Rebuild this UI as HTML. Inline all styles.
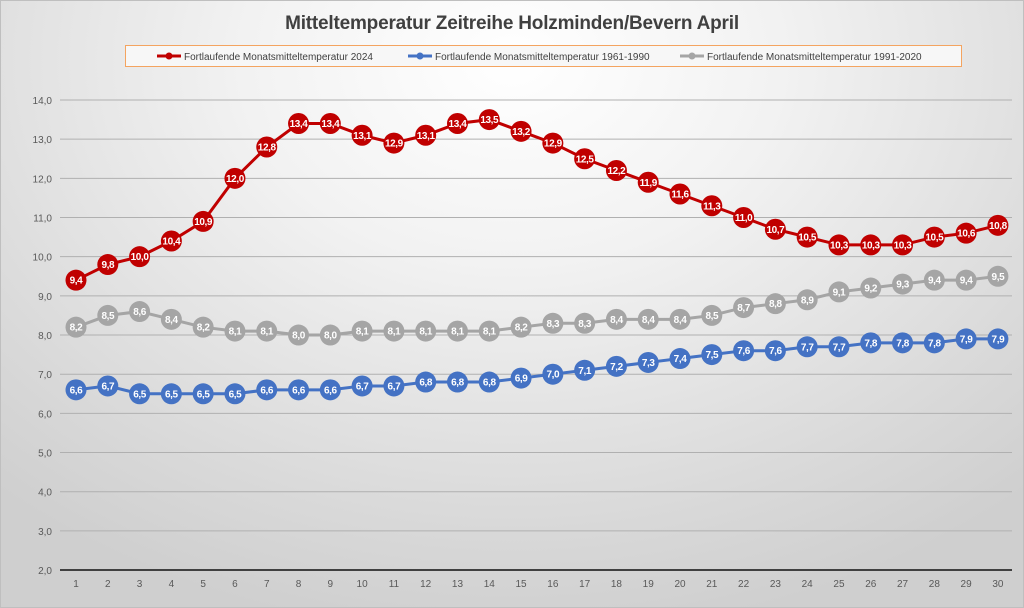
<!DOCTYPE html>
<html><head><meta charset="utf-8"><style>
html,body{margin:0;padding:0;width:1024px;height:608px;overflow:hidden}
body{background:radial-gradient(ellipse 75% 95% at 50% 10%,#ffffff 0%,#f2f2f2 35%,#d9d9d9 80%,#cfcfcf 100%);font-family:"Liberation Sans",sans-serif}
svg{position:absolute;left:0;top:0}
</style></head><body>
<svg id="c" width="1024" height="608" xmlns="http://www.w3.org/2000/svg"></svg>
<script>
const s=document.getElementById('c');let h='';
h+='<rect x="0.5" y="0.5" width="1023" height="607" fill="none" stroke="#bfbfbf"/>';
h+='<text x="512" y="29" text-anchor="middle" font-size="19" font-weight="bold" fill="#404040" letter-spacing="-0.2">Mitteltemperatur Zeitreihe Holzminden/Bevern April</text>';
h+='<rect x="125.5" y="45.5" width="836" height="21" fill="#f7f7f7" stroke="#f4a460"/>';
const leg=[[157,'#c00000','Fortlaufende Monatsmitteltemperatur 2024'],[408,'#4472c4','Fortlaufende Monatsmitteltemperatur 1961-1990'],[680,'#a5a5a5','Fortlaufende Monatsmitteltemperatur 1991-2020']];
leg.forEach(l=>{h+=`<line x1="${l[0]}" y1="56" x2="${l[0]+24}" y2="56" stroke="${l[1]}" stroke-width="3"/><circle cx="${l[0]+12}" cy="56" r="3.5" fill="${l[1]}"/><text x="${l[0]+27}" y="60" font-size="10" fill="#404040">${l[2]}</text>`});
const Y=v=>100+(14-v)*39.17, X=i=>76+i*31.79;
for(let v=2;v<=14;v++){h+=`<line x1="60" x2="1012" y1="${Y(v)}" y2="${Y(v)}" stroke="${v==2?'#404040':'#b0b0b0'}" stroke-width="${v==2?2:1}"/><text x="52" y="${Y(v)+4}" text-anchor="end" font-size="10" fill="#595959">${v.toFixed(1).replace('.',',')}</text>`}
for(let i=0;i<30;i++)h+=`<text x="${X(i)}" y="587" text-anchor="middle" font-size="10" fill="#595959">${i+1}</text>`;
const D=[
['#c00000',[9.4,9.8,10.0,10.4,10.9,12.0,12.8,13.4,13.4,13.1,12.9,13.1,13.4,13.5,13.2,12.9,12.5,12.2,11.9,11.6,11.3,11.0,10.7,10.5,10.3,10.3,10.3,10.5,10.6,10.8]],
['#4472c4',[6.6,6.7,6.5,6.5,6.5,6.5,6.6,6.6,6.6,6.7,6.7,6.8,6.8,6.8,6.9,7.0,7.1,7.2,7.3,7.4,7.5,7.6,7.6,7.7,7.7,7.8,7.8,7.8,7.9,7.9]],
['#a5a5a5',[8.2,8.5,8.6,8.4,8.2,8.1,8.1,8.0,8.0,8.1,8.1,8.1,8.1,8.1,8.2,8.3,8.3,8.4,8.4,8.4,8.5,8.7,8.8,8.9,9.1,9.2,9.3,9.4,9.4,9.5]]];
D.forEach(d=>{h+=`<polyline fill="none" stroke="${d[0]}" stroke-width="3" points="${d[1].map((v,i)=>X(i)+','+Y(v)).join(' ')}"/>`;
d[1].forEach((v,i)=>{h+=`<circle cx="${X(i)}" cy="${Y(v)}" r="10.5" fill="${d[0]}"/><text x="${X(i)}" y="${Y(v)+3.5}" text-anchor="middle" font-size="10" font-weight="bold" letter-spacing="-0.4" fill="#fff">${v.toFixed(1).replace('.',',')}</text>`})});
s.innerHTML=h;
</script>
</body></html>
